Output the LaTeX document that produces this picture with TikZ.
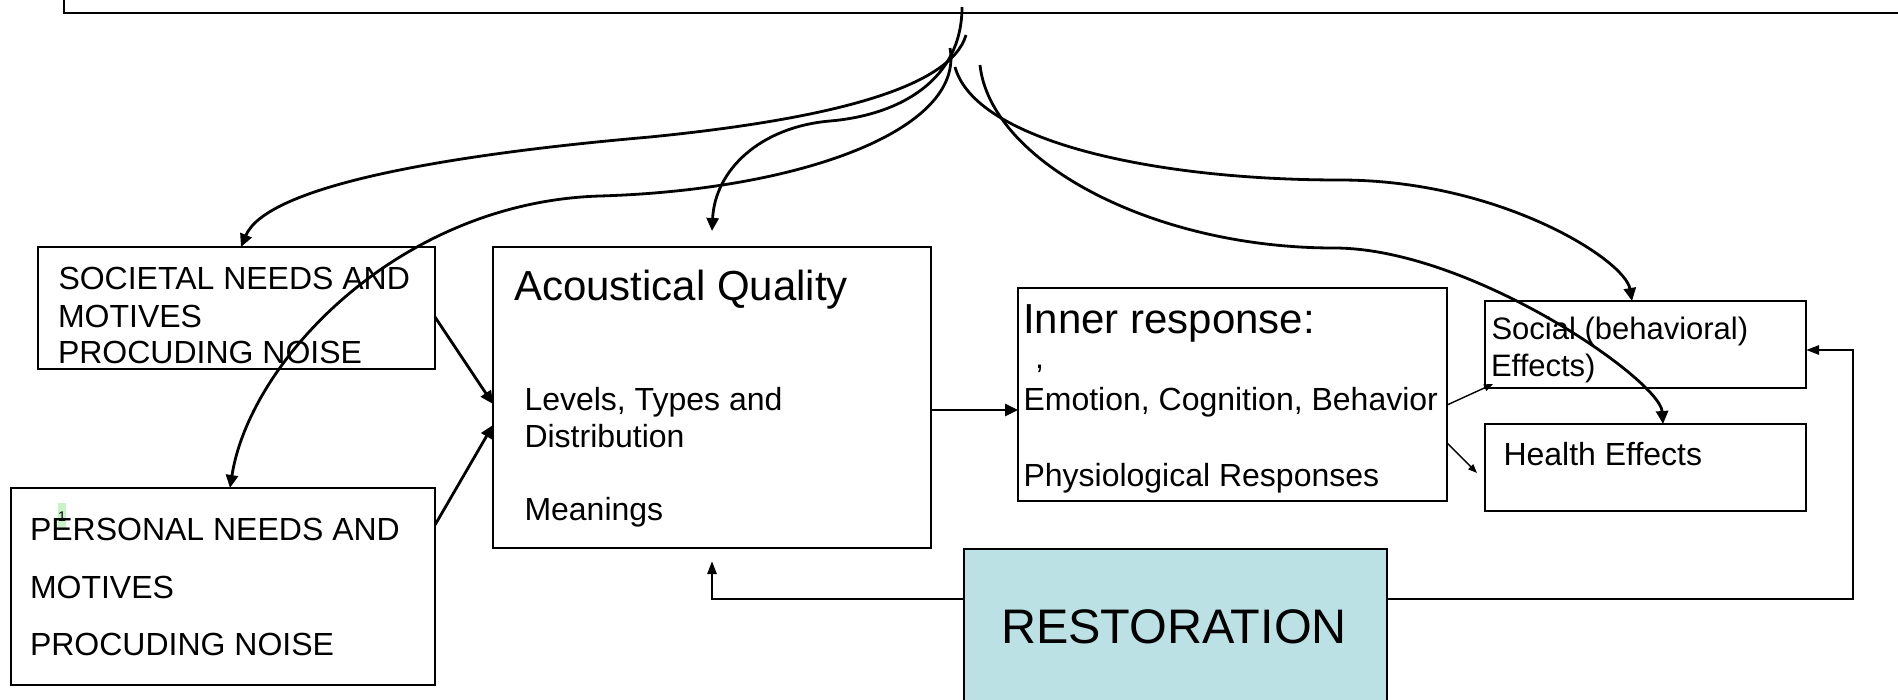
\documentclass[tikz,border=0pt]{standalone}
\usepackage{fontspec}
\setmainfont{Liberation Sans}
\usetikzlibrary{arrows.meta}
\definecolor{restfill}{RGB}{188,225,228}
\definecolor{notegreen}{RGB}{200,242,200}
\tikzset{
  box/.style={draw=black, line width=1.6pt, inner sep=0pt, outer sep=0pt, anchor=north west},
  txt/.style={anchor=base west, inner sep=0pt, outer sep=0pt, font=\fontsize{32}{38}\selectfont},
  bigtxt/.style={txt, font=\fontsize{42}{50}\selectfont},
  curve/.style={line width=2.8pt, -{Triangle[length=13pt,width=12pt]}},
  link/.style={line width=2.8pt, -{Triangle[length=13pt,width=12pt]}},
  slimlink/.style={line width=1.4pt, -{Triangle[length=9pt,width=7pt]}},
  loopline/.style={line width=2.6pt, -{Triangle[length=13pt,width=9pt]}},
}
\begin{document}
\begin{tikzpicture}[x=1pt,y=-1pt]
\useasboundingbox (0,0) rectangle (1898,699);
\clip (0,0) rectangle (1898,699);

% boxes
\node[box, anchor=south west, minimum width=1900pt, minimum height=60pt] (top) at (64,13) {};
\node[box, minimum width=397pt, minimum height=122pt] (soc) at (38,247) {};
\node[box, minimum width=424pt, minimum height=197pt] (per) at (11,488) {};
\node[box, minimum width=438pt, minimum height=301pt] (aq) at (493,247) {};
\node[box, minimum width=429pt, minimum height=213pt] (inner) at (1018,288) {};
\node[box, minimum width=321pt, minimum height=87pt] (social) at (1485,301) {};
\node[box, minimum width=321pt, minimum height=87pt] (health) at (1485,424) {};
\node[box, fill=restfill, minimum width=423pt, minimum height=200pt] (rest) at (964,549) {};

% comment marker
\node[fill=notegreen, inner sep=0pt, minimum width=8pt, minimum height=27pt,
      font=\fontsize{14}{14}\selectfont] (mark) at (62,516.5) {1};

% texts
\node[txt] (s1) at (58.5,289.3) {SOCIETAL NEEDS AND};
\node[txt] (s2) at (58,327.7) {MOTIVES};
\node[txt] (s3) at (58,363.3) {PROCUDING NOISE};
\node[txt] (p1) at (30,540) {PERSONAL NEEDS AND};
\node[txt] (p2) at (30,598.3) {MOTIVES};
\node[txt] (p3) at (30,655) {PROCUDING NOISE};
\node[bigtxt] (a0) at (514,300) {Acoustical Quality};
\node[txt] (a1) at (524.5,410) {Levels, Types and};
\node[txt] (a2) at (524.5,447.3) {Distribution};
\node[txt] (a3) at (524.5,520.7) {Meanings};
\node[bigtxt] (i0) at (1023,333.3) {Inner response:};
\node[txt] (i1) at (1035,368) {,};
\node[txt] (i2) at (1023.5,410) {Emotion, Cognition, Behavior};
\node[txt] (i3) at (1023.5,486.7) {Physiological Responses};
\node[txt, font=\fontsize{31}{37}\selectfont] (c1) at (1491.5,339.3) {Social (behavioral)};
\node[txt, font=\fontsize{31}{37}\selectfont] (c2) at (1491,376) {Effects)};
\node[txt] (h1) at (1503.5,465) {Health Effects};
\node[txt, font=\fontsize{48.5}{56}\selectfont] (r1) at (1001,643.3) {RESTORATION};

% straight connectors
\draw[link] ([yshift=-9pt]soc.east) -- ([yshift=-6.5pt]aq.west);
\draw[link] ([yshift=61.5pt]per.east) -- ([yshift=-27.5pt]aq.west);
\draw[link] ([yshift=-12.5pt]aq.east) -- ([yshift=-15.5pt]inner.west);
\draw[slimlink] ([yshift=-10.5pt]inner.east) -- ([xshift=8pt,yshift=4pt]social.south west);
\draw[slimlink] ([yshift=-48.5pt]inner.east) -- ([xshift=-8pt,yshift=-5.5pt]health.west);

% restoration feedback lines
\draw[loopline] ([yshift=-50pt]rest.north west) -| ([yshift=-13pt]aq.south);
\draw[loopline] ([yshift=-50pt]rest.north east) -| ([xshift=47pt,yshift=-5.5pt]social.east)
  -- ([yshift=-5.5pt]social.east);

% curved connectors from the top box
\coordinate (o1) at (966,35);
\coordinate (o2) at (962,7);
\coordinate (o3) at (950,48);
\coordinate (o4) at (955,67);
\coordinate (o5) at (980,65);
\coordinate (t1) at ([xshift=4.5pt]soc.north);
\coordinate (t2) at ([yshift=16pt]aq.north);
\coordinate (t3) at ([xshift=7pt]per.north);
\coordinate (t4) at ([xshift=-13.5pt]social.north);
\coordinate (t5) at ([xshift=17.5pt]health.north);

\draw[curve] (o1) .. controls (950,90) and (820,120) .. (650,137)
                  .. controls (420,157) and (265,190) .. (t1);
\draw[curve] (o2) .. controls (962,80) and (900,115) .. (830,121)
                  .. controls (760,127) and (715,170) .. (t2);
\draw[curve] (o3) .. controls (965,130) and (800,190) .. (600,196)
                  .. controls (400,202) and (250,360) .. (t3);
\draw[curve] (o4) .. controls (975,140) and (1150,180) .. (1340,180)
                  .. controls (1500,180) and (1625,260) .. (t4);
\draw[curve] (o5) .. controls (990,160) and (1150,248) .. (1334,248)
                  .. controls (1470,248) and (1660,380) .. (t5);
\end{tikzpicture}
\end{document}
